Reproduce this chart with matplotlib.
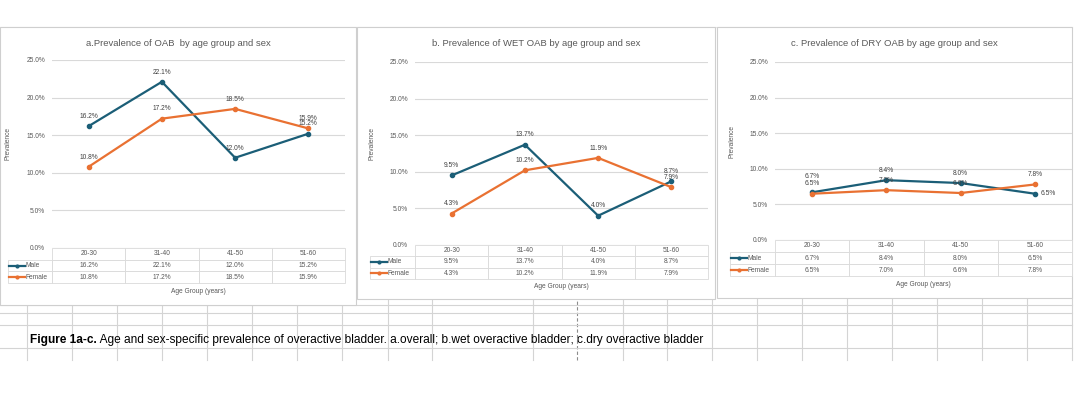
import matplotlib
matplotlib.use("Agg")
import matplotlib.pyplot as plt
from matplotlib.patches import Rectangle
import numpy as np

# data
age_groups = ["20-30", "31-40", "41-50", "51-60"]
overall_male = [16.2, 22.1, 12.0, 15.2]
overall_female = [10.8, 17.2, 18.5, 15.9]
wet_male = [9.5, 13.7, 4.0, 8.7]
wet_female = [4.3, 10.2, 11.9, 7.9]
dry_male = [6.7, 8.4, 8.0, 6.5]
dry_female = [6.5, 7.0, 6.6, 7.8]
y_ticks = [0, 5, 10, 15, 20, 25]
series_names = ["Male", "Female"]
titles = ["a.Prevalence of OAB  by age group and sex",
          "b. Prevalence of WET OAB by age group and sex",
          "c. Prevalence of DRY OAB by age group and sex"]
caption_bold = "Figure 1a-c."
caption_rest = (" Age and sex-specific prevalence of overactive bladder. "
                "a.overall; b.wet overactive bladder; c.dry overactive bladder")

W, H = 1080, 398
MALE = "#1B5E77"
FEMALE = "#E97132"
GREY = "#595959"
GRID = "#D9D9D9"
SHEET = "#D4D4D4"
plt.rcParams["font.family"] = ["Liberation Sans", "DejaVu Sans"]

fig = plt.figure(figsize=(W / 100, H / 100), dpi=100)
bg = fig.add_axes([0, 0, 1, 1])
bg.set_xlim(0, W)
bg.set_ylim(H, 0)
bg.axis("off")

# spreadsheet grid behind the charts
sheet_cols = [27, 72, 117, 162, 207, 252, 297, 342, 388, 432, 533, 623, 667,
              712, 757, 802, 847, 892, 937, 982, 1027, 1072]
for xc in sheet_cols:
    bg.plot([xc, xc], [290, 360], color=SHEET, lw=0.8, zorder=1)
bg.plot([577, 577], [290, 360], color="#8C8C8C", lw=0.8, ls=(0, (3, 2)), zorder=1)
for yr in [305, 313, 325, 348]:
    bg.plot([0, 1072], [yr, yr], color=SHEET, lw=0.8, zorder=1)
bg.plot([0, 1072], [27, 27], color="#E6E6E6", lw=0.8, zorder=1)


def px_axes(x0, y0, x1, y1):
    return fig.add_axes([x0 / W, 1 - y1 / H, (x1 - x0) / W, (y1 - y0) / H])


def draw_chart(panel, plot, leg_x, row_h, male, female, title, ylab_x, nudges):
    px0, py0, px1, py1 = panel
    bg.add_patch(Rectangle((px0, py0), px1 - px0, py1 - py0, fc="white",
                           ec="#CFCFCF", lw=0.8, zorder=2))
    x0, y0, x1, y1 = plot
    bg.text((px0 + px1) / 2, 43, title, ha="center", va="center",
            fontsize=6.8, color=GREY, zorder=3)
    bg.text(ylab_x, (y0 + y1) / 2 - 10, "Prevalence", rotation=90, ha="center",
            va="center", fontsize=4.8, color=GREY, zorder=3)
    bg.text((x0 + x1) / 2, y1 + 3 * row_h + 8, "Age Group (years)", ha="center",
            va="center", fontsize=4.8, color=GREY, zorder=3)

    ax = px_axes(x0, y0, x1, y1)
    ax.set_facecolor("none")
    x = np.arange(len(age_groups))
    ax.set_xlim(-0.5, len(age_groups) - 0.5)
    ax.set_ylim(0, 25)
    ax.set_yticks(y_ticks)
    ax.set_yticklabels([f"{v:.1f}%" for v in y_ticks], fontsize=4.8, color=GREY)
    ax.tick_params(axis="y", length=0, pad=5)
    ax.set_xticks([])
    ax.grid(axis="y", color=GRID, lw=0.8)
    ax.set_axisbelow(True)
    for s in ax.spines.values():
        s.set_visible(False)

    for vals, col, name in [(male, MALE, "Male"), (female, FEMALE, "Female")]:
        ax.plot(x, vals, "o-", color=col, lw=1.6, ms=3, clip_on=False)
        for i, v in enumerate(vals):
            dx, dy, ha = nudges.get((name, i), (0, 7, "center"))
            ax.annotate(f"{v:.1f}%", (i, v), xytext=(dx, dy),
                        textcoords="offset points", ha=ha, va="center",
                        fontsize=4.8, color="#404040")

    # data table under the plot
    rh = row_h / (y1 - y0)
    lx = (leg_x - x0) / (x1 - x0)
    cells = [[""] + age_groups,
             [""] + [f"{v:.1f}%" for v in male],
             [""] + [f"{v:.1f}%" for v in female]]
    tbl = ax.table(cellText=cells, cellLoc="center",
                   bbox=[lx, -3 * rh, 1 - lx, 3 * rh])
    tbl.auto_set_font_size(False)
    tbl.set_fontsize(4.8)
    for (r, c), cell in tbl.get_celld().items():
        cell.set_edgecolor(GRID)
        cell.set_linewidth(0.6)
        cell.get_text().set_color(GREY)
        cell.set_width(-lx if c == 0 else 0.25)
    tbl[0, 0].visible_edges = "open"

    tr = ax.transAxes
    seg = 17 / (x1 - x0)
    for k, (col, name) in enumerate(zip([MALE, FEMALE], series_names)):
        yy = -(k + 1.5) * rh
        ax.plot([lx + 0.003, lx + seg], [yy, yy], color=col, lw=1.6,
                transform=tr, clip_on=False)
        ax.plot([lx + 0.003 + seg / 2], [yy], "o", color=col, ms=2,
                transform=tr, clip_on=False)
        ax.text(lx + seg + 0.002, yy, name, transform=tr, ha="left",
                va="center", fontsize=4.8, color=GREY)
    return ax


draw_chart((0, 27, 356, 305), (52, 60, 345, 248), 8, 11.7,
           overall_male, overall_female, titles[0], 8, {})
draw_chart((357, 27, 715, 299), (415, 62, 708, 245), 370, 11.3,
           wet_male, wet_female, titles[1], 372, {})
draw_chart((717, 27, 1072, 298), (775, 62, 1072, 240), 730, 12,
           dry_male, dry_female, titles[2], 732,
           {("Male", 0): (0, 11.5, "center"), ("Male", 3): (4, 0, "left")})

# caption with bold lead-in, sized so it ends where the reference ends (~x=702)
cap_x0, cap_x1, cap_y = 30, 702, 340
t1 = bg.text(cap_x0, cap_y, caption_bold, fontsize=9, fontweight="bold",
             va="center", ha="left", color="black", zorder=3)
t2 = bg.text(cap_x0, cap_y, caption_rest, fontsize=9, va="center", ha="left",
             color="black", zorder=3)
fig.canvas.draw()
r = fig.canvas.get_renderer()
w_total = t1.get_window_extent(r).width + t2.get_window_extent(r).width
size = 9 * (cap_x1 - cap_x0) / w_total
t1.set_fontsize(size)
t2.set_fontsize(size)
fig.canvas.draw()
t2.set_x(t1.get_window_extent(r).x1)

fig.savefig("out.png", dpi=100)
print("Saved: out.png")
